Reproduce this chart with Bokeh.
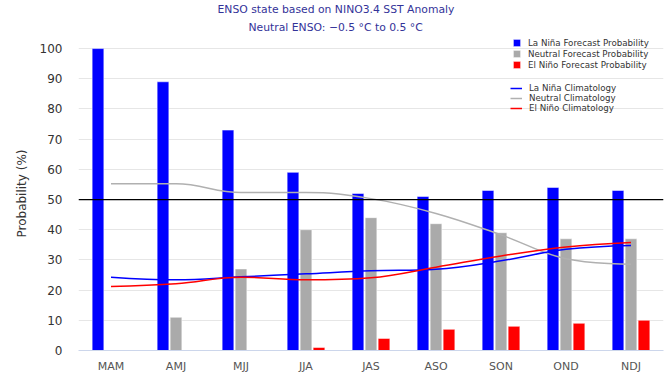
from bokeh.plotting import figure
from bokeh.models import (Range1d, Span, Legend, LegendItem, Title, FixedTicker,
                          ColumnDataSource)
from bokeh.embed import file_html
from bokeh.resources import INLINE

# ---------------- data ----------------
seasons = ["MAM", "AMJ", "MJJ", "JJA", "JAS", "ASO", "SON", "OND", "NDJ"]
la_nina_prob = [100, 89, 73, 59, 52, 51, 53, 54, 53]
neutral_prob = [0, 11, 27, 40, 44, 42, 39, 37, 37]
el_nino_prob = [0, 0, 0, 1, 4, 7, 8, 9, 10]
la_nina_clim = [24.3, 23.4, 24.4, 25.4, 26.4, 26.9, 29.7, 33.5, 34.8]
neutral_clim = [55.2, 55.2, 52.3, 52.3, 50.3, 45.4, 38.3, 30.4, 28.6]
el_nino_clim = [21.2, 22.1, 24.3, 23.4, 24.1, 27.6, 31.3, 34.3, 35.8]
y_ticks = [0, 10, 20, 30, 40, 50, 60, 70, 80, 90, 100]

FONT = "DejaVu Sans"

p = figure(width=668, height=376, output_backend="svg", toolbar_location=None,
           x_range=Range1d(-0.5, len(seasons) - 0.5), y_range=Range1d(0, 104),
           min_border_left=78, min_border_right=5, min_border_top=36,
           min_border_bottom=26)
p.outline_line_color = None
p.background_fill_color = "white"

# titles
t2 = Title(text="Neutral ENSO: \u22120.5 \u00b0C to 0.5 \u00b0C", align="left",
           offset=170, text_font=FONT, text_font_size="10.8px",
           text_font_style="normal", text_color="#333399", standoff=6)
t1 = Title(text="ENSO state based on NINO3.4 SST Anomaly", align="left",
           offset=139, text_font=FONT, text_font_size="10.8px",
           text_font_style="normal", text_color="#333399", standoff=0)
p.add_layout(t2, "above")
p.add_layout(t1, "above")

# bars
xs = list(range(len(seasons)))
off = 0.2
bw = 0.18
src = ColumnDataSource(dict(
    xb=[x - off for x in xs], xg=xs, xr=[x + off for x in xs],
    ln=la_nina_prob, nt=neutral_prob, en=el_nino_prob))
r_ln = p.vbar(x="xb", top="ln", width=bw, source=src, fill_color="#0000ff",
              line_color="white", line_alpha=0.5, line_width=1)
r_nt = p.vbar(x="xg", top="nt", width=bw, source=src, fill_color="#aaaaaa",
              line_color="white", line_alpha=0.5, line_width=1)
r_en = p.vbar(x="xr", top="en", width=bw, source=src, fill_color="#ff0000",
              line_color="white", line_alpha=0.5, line_width=1)

# 50% reference line
p.add_layout(Span(location=50, dimension="width", line_color="black", line_width=1.3))


def spline_segments(ys):
    """Highcharts-style spline control points (smoothing 1.5)."""
    n = len(ys)
    left, right = [], []
    for i in range(n):
        x, y = xs[i], ys[i]
        if i == 0 or i == n - 1:
            left.append((x, y))
            right.append((x, y))
            continue
        xp, yp = xs[i - 1], ys[i - 1]
        xn, yn = xs[i + 1], ys[i + 1]
        lcx = (1.5 * x + xp) / 2.5
        lcy = (1.5 * y + yp) / 2.5
        rcx = (1.5 * x + xn) / 2.5
        rcy = (1.5 * y + yn) / 2.5
        corr = ((rcy - lcy) * (rcx - x)) / (rcx - lcx) + y - rcy
        lcy += corr
        rcy += corr
        if lcy > yp and lcy > y:
            lcy = max(yp, y)
            rcy = 2 * y - lcy
        elif lcy < yp and lcy < y:
            lcy = min(yp, y)
            rcy = 2 * y - lcy
        if rcy > yn and rcy > y:
            rcy = max(yn, y)
            lcy = 2 * y - rcy
        elif rcy < yn and rcy < y:
            rcy = min(yn, y)
            lcy = 2 * y - rcy
        left.append((lcx, lcy))
        right.append((rcx, rcy))
    d = dict(x0=[], y0=[], x1=[], y1=[], cx0=[], cy0=[], cx1=[], cy1=[])
    for i in range(n - 1):
        d["x0"].append(xs[i]); d["y0"].append(ys[i])
        d["x1"].append(xs[i + 1]); d["y1"].append(ys[i + 1])
        d["cx0"].append(right[i][0]); d["cy0"].append(right[i][1])
        d["cx1"].append(left[i + 1][0]); d["cy1"].append(left[i + 1][1])
    return ColumnDataSource(d)


def draw_spline(ys, color):
    return p.bezier(x0="x0", y0="y0", x1="x1", y1="y1", cx0="cx0", cy0="cy0",
                    cx1="cx1", cy1="cy1", source=spline_segments(ys),
                    line_color=color, line_width=1.5)


c_nt = draw_spline(neutral_clim, "#b0b0b0")
c_ln = draw_spline(la_nina_clim, "#0000ff")
c_en = draw_spline(el_nino_clim, "#ff0000")

# axes
p.xaxis.ticker = FixedTicker(ticks=xs)
p.xaxis.major_label_overrides = {i: s for i, s in enumerate(seasons)}
p.xaxis.axis_line_color = "#ccd6eb"
p.xaxis.major_tick_line_color = None
p.xaxis.minor_tick_line_color = None
p.xaxis.major_tick_out = 0
p.xaxis.major_tick_in = 0
p.xaxis.major_label_standoff = 9
p.xaxis.major_label_text_font = FONT
p.xaxis.major_label_text_font_size = "11px"
p.xaxis.major_label_text_color = "#555555"

p.yaxis.ticker = FixedTicker(ticks=y_ticks)
p.yaxis.axis_line_color = None
p.yaxis.major_tick_line_color = None
p.yaxis.minor_tick_line_color = None
p.yaxis.major_tick_out = 0
p.yaxis.major_tick_in = 0
p.yaxis.major_label_standoff = 16
p.yaxis.major_label_text_font = FONT
p.yaxis.major_label_text_font_size = "12px"
p.yaxis.major_label_text_color = "#333333"
p.yaxis.axis_label = "Probability (%)"
p.yaxis.axis_label_text_font = FONT
p.yaxis.axis_label_text_font_size = "12px"
p.yaxis.axis_label_text_font_style = "normal"
p.yaxis.axis_label_text_color = "#333333"
p.yaxis.axis_label_standoff = 8

p.xgrid.grid_line_color = None
p.ygrid.grid_line_color = "#e6e6e6"
p.ygrid.ticker = FixedTicker(ticks=y_ticks)


def make_legend(items, loc, gw, gh, lh):
    lg = Legend(items=items, location=loc, orientation="vertical",
                background_fill_alpha=0, border_line_alpha=0,
                padding=0, margin=0, spacing=0,
                glyph_width=gw, glyph_height=gh, label_height=lh,
                label_standoff=7, label_text_font=FONT,
                label_text_font_size="8.7px", label_text_color="#333333")
    p.add_layout(lg, "center")
    return lg


make_legend([LegendItem(label="La Ni\u00f1a Forecast Probability", renderers=[r_ln]),
             LegendItem(label="Neutral Forecast Probability", renderers=[r_nt]),
             LegendItem(label="El Ni\u00f1o Forecast Probability", renderers=[r_en])],
            (434, 280), 9, 9, 11)
make_legend([LegendItem(label="La Ni\u00f1a Climatology", renderers=[c_ln]),
             LegendItem(label="Neutral Climatology", renderers=[c_nt]),
             LegendItem(label="El Ni\u00f1o Climatology", renderers=[c_en])],
            (432, 237), 12, 10, 10)

open("out.html", "w").write(file_html(p, INLINE))
